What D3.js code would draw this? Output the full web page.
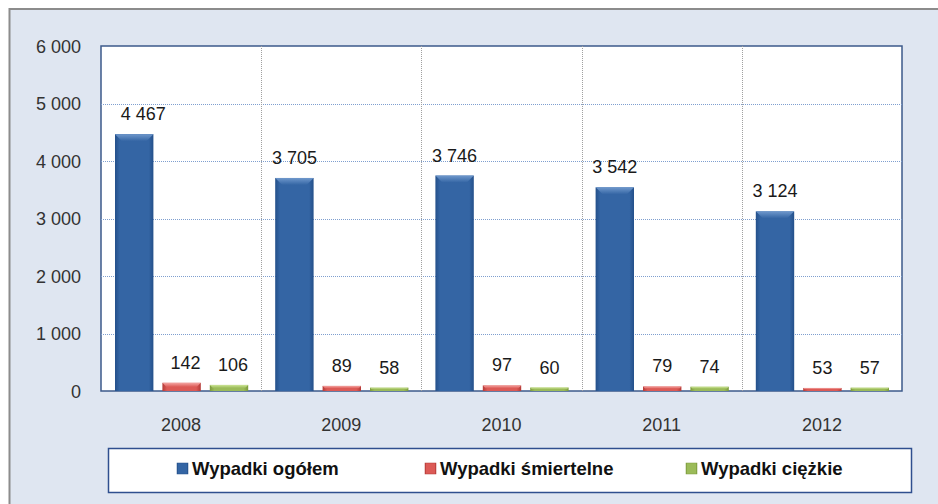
<!DOCTYPE html>
<html>
<head>
<meta charset="utf-8">
<script src="https://cdn.jsdelivr.net/npm/d3@7"></script>
<style>
  body { margin: 0; background: #fff; }
  svg { display: block; font-family: "Liberation Sans", Arial, sans-serif; }
</style>
</head>
<body>
<svg id="chart" width="938" height="504"></svg>
<script>
// data
const years = ["2008", "2009", "2010", "2011", "2012"];
const seriesNames = ["Wypadki ogółem", "Wypadki śmiertelne", "Wypadki ciężkie"];
const ogolem = [4467, 3705, 3746, 3542, 3124];
const smiertelne = [142, 89, 97, 79, 53];
const ciezkie = [106, 58, 60, 74, 57];
const yTicks = [0, 1000, 2000, 3000, 4000, 5000, 6000];

const colors = [
  { base: "#3465a4", dark: "#24508a", light: "#6f98cc" },
  { base: "#dc5a56", dark: "#b33a37", light: "#f4a5a2" },
  { base: "#9bbb59", dark: "#7c9a3d", light: "#cde596" }
];

const svg = d3.select("#chart");
const fmt = v => d3.format(",")(v).replace(/,/g, " ");

// panel background with the grey frame on top / left
svg.append("rect").attr("x", 9).attr("y", 8).attr("width", 929).attr("height", 496).attr("fill", "#dfe6f1");
svg.append("line").attr("x1", 9).attr("x2", 938).attr("y1", 9).attr("y2", 9).attr("stroke", "#8c8c8c").attr("stroke-width", 2);
svg.append("line").attr("x1", 9.5).attr("x2", 9.5).attr("y1", 8).attr("y2", 504).attr("stroke", "#8c8c8c").attr("stroke-width", 2);

const plot = { left: 101, top: 46, right: 902, bottom: 391 };

const x0 = d3.scaleBand().domain(years).range([plot.left, plot.right]).paddingInner(0).paddingOuter(0);
const x1 = d3.scaleBand().domain([0, 1, 2]).range([14, x0.bandwidth() - 13]).paddingInner(0.19).paddingOuter(0);
const y = d3.scaleLinear().domain([0, 6000]).range([plot.bottom, plot.top]);

// plot area
svg.append("rect")
  .attr("x", plot.left).attr("y", plot.top)
  .attr("width", plot.right - plot.left).attr("height", plot.bottom - plot.top)
  .attr("fill", "#fff").attr("stroke", "#3d5a8a").attr("stroke-width", 1.5);

// horizontal dotted grid
svg.append("g").selectAll("line")
  .data(yTicks.filter(d => d > 0 && d < 6000))
  .enter().append("line")
  .attr("x1", plot.left).attr("x2", plot.right)
  .attr("y1", d => Math.round(y(d)) + 0.5).attr("y2", d => Math.round(y(d)) + 0.5)
  .attr("stroke", "#7f9fcf").attr("stroke-dasharray", "1,1");

// vertical dotted grid between categories
svg.append("g").selectAll("line")
  .data(years.slice(1))
  .enter().append("line")
  .attr("x1", d => Math.round(x0(d)) + 0.5).attr("x2", d => Math.round(x0(d)) + 0.5)
  .attr("y1", plot.top).attr("y2", plot.bottom)
  .attr("stroke", "#a0a0a0").attr("stroke-dasharray", "1,1");

// y axis labels
const yAxis = d3.axisLeft(y).tickValues(yTicks).tickSize(0).tickPadding(0).tickFormat(fmt);
const yg = svg.append("g").attr("transform", "translate(81,0)").call(yAxis);
yg.attr("font-size", null).attr("font-family", null);
yg.select(".domain").remove();
yg.selectAll("text").style("font-size", "18px").attr("fill", "#333").attr("dy", "0.36em");

// x axis labels
const xAxis = d3.axisBottom(x0).tickSize(0).tickPadding(0);
const xg = svg.append("g").attr("transform", "translate(0,431)").call(xAxis);
xg.attr("font-size", null).attr("font-family", null);
xg.select(".domain").remove();
xg.selectAll("text").style("font-size", "18px").attr("fill", "#333").attr("dy", 0);

// gradients for the bevelled bars
const defs = svg.append("defs");
colors.forEach((c, i) => {
  const g = defs.append("linearGradient").attr("id", "grad" + i).attr("x1", 0).attr("x2", 1).attr("y1", 0).attr("y2", 0);
  g.append("stop").attr("offset", "0%").attr("stop-color", c.dark);
  g.append("stop").attr("offset", "12%").attr("stop-color", c.base);
  g.append("stop").attr("offset", "88%").attr("stop-color", c.base);
  g.append("stop").attr("offset", "100%").attr("stop-color", c.dark);
  const t = defs.append("linearGradient").attr("id", "top" + i).attr("x1", 0).attr("x2", 0).attr("y1", 0).attr("y2", 1);
  t.append("stop").attr("offset", "0%").attr("stop-color", c.light);
  t.append("stop").attr("offset", "100%").attr("stop-color", c.base);
});

const allSeries = [ogolem, smiertelne, ciezkie];
const rows = [];
years.forEach((yr, i) => {
  allSeries.forEach((s, k) => rows.push({ year: yr, k: k, v: s[i] }));
});

const bars = svg.append("g").selectAll("g")
  .data(rows).enter().append("g")
  .attr("transform", d => "translate(" + (x0(d.year) + x1(d.k)) + ",0)");

const bw = x1.bandwidth();
bars.append("rect")
  .attr("x", 0).attr("y", d => y(d.v))
  .attr("width", bw).attr("height", d => plot.bottom - y(d.v))
  .attr("fill", d => "url(#grad" + d.k + ")");

// top bevel
bars.append("path")
  .attr("d", d => {
    const t = y(d.v), h = Math.min(7, (plot.bottom - t) / 2);
    return "M0," + t + "L" + bw + "," + t + "L" + (bw - h) + "," + (t + h) + "L" + h + "," + (t + h) + "Z";
  })
  .attr("fill", d => "url(#top" + d.k + ")");

// value labels (the 2008 ones sit a little to the right in the original)
bars.append("text")
  .attr("x", bw / 2).attr("y", d => y(d.v) - 14)
  .attr("dx", d => d.year === "2008" ? (d.k === 0 ? 9 : 4) : 0)
  .attr("text-anchor", "middle")
  .style("font-size", "18px").attr("fill", "#1a1a1a")
  .text(d => fmt(d.v));

// legend
svg.append("rect").attr("x", 108.5).attr("y", 448.5).attr("width", 803).attr("height", 44)
  .attr("fill", "#fff").attr("stroke", "#2f4f8f").attr("stroke-width", 1.5);

const legendX = [177, 425, 686];
const leg = svg.append("g").selectAll("g")
  .data(seriesNames).enter().append("g")
  .attr("transform", (d, i) => "translate(" + legendX[i] + ",463)");
leg.append("rect").attr("width", 11).attr("height", 11)
  .attr("fill", (d, i) => "url(#grad" + i + ")").attr("stroke", (d, i) => colors[i].dark).attr("stroke-width", 0.5);
leg.append("text").attr("x", 15).attr("y", 12)
  .style("font-size", "18.5px").attr("font-weight", "bold").attr("fill", "#111")
  .text(d => d);
</script>
</body>
</html>
